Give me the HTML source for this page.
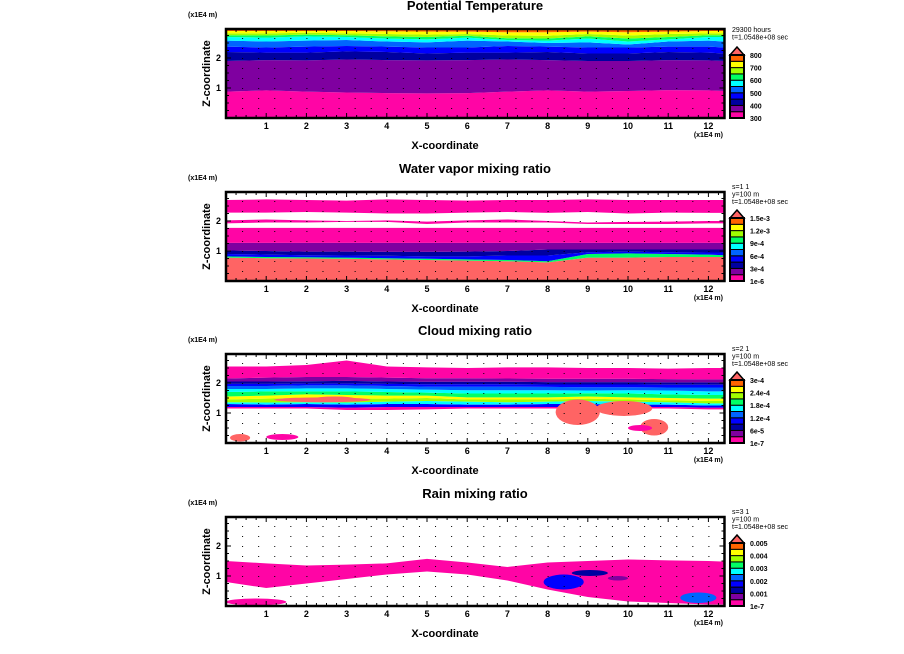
<!DOCTYPE html>
<html><head><meta charset="utf-8">
<style>
html,body{margin:0;padding:0;background:#fff;}
svg{display:block;font-family:"Liberation Sans",sans-serif;}
</style></head>
<body>
<svg id="fig" width="904" height="654" viewBox="0 0 904 654" xmlns="http://www.w3.org/2000/svg"></svg>
<script>
// ---- shared data ----
const xGrid = [0,1,2,3,4,5,6,7,8,9,10,11,12,12.4];
const xTicks = [1,2,3,4,5,6,7,8,9,10,11,12];
const zTicks = [1,2];
const palette = ['#ff05a5','#7f00a0','#0000a0','#0000ff','#0064ff','#00ffff','#00ff64','#a0ff00','#ffff00','#ff6400'];
const triColor = '#ff6464';
const titles = ['Potential Temperature','Water vapor mixing ratio','Cloud mixing ratio','Rain mixing ratio'];
const cbLabels = [
  ['800','700','600','500','400','300'],
  ['1.5e-3','1.2e-3','9e-4','6e-4','3e-4','1e-6'],
  ['3e-4','2.4e-4','1.8e-4','1.2e-4','6e-5','1e-7'],
  ['0.005','0.004','0.003','0.002','0.001','1e-7']
];
const infoText = [
  ['29300 hours','t=1.0548e+08 sec'],
  ['s=1 1','y=100 m','t=1.0548e+08 sec'],
  ['s=2 1','y=100 m','t=1.0548e+08 sec'],
  ['s=3 1','y=100 m','t=1.0548e+08 sec']
];

// ---- panel 1: stacked band tops (z in 1E4 m), colors bottom->top ----
const p1Colors = [0,1,2,3,4,5,6,7,8,9];
const p1Tops = [
  [0.88,0.92,0.88,0.85,0.83,0.82,0.83,0.88,0.92,0.88,0.90,0.93,0.92,0.90],
  [1.90,1.93,1.92,1.95,1.93,1.92,1.93,1.95,1.93,1.90,1.90,1.93,1.92,1.90],
  [2.20,2.18,2.18,2.22,2.20,2.15,2.18,2.18,2.20,2.15,2.15,2.20,2.18,2.15],
  [2.38,2.35,2.38,2.40,2.38,2.35,2.35,2.40,2.38,2.35,2.35,2.38,2.38,2.35],
  [2.58,2.55,2.58,2.60,2.55,2.52,2.58,2.55,2.50,2.52,2.45,2.55,2.58,2.55],
  [2.70,2.68,2.72,2.70,2.65,2.62,2.68,2.60,2.58,2.65,2.55,2.62,2.70,2.70],
  [2.76,2.75,2.78,2.76,2.72,2.70,2.74,2.66,2.65,2.72,2.65,2.70,2.76,2.76],
  [2.82,2.82,2.84,2.82,2.80,2.78,2.80,2.75,2.74,2.80,2.75,2.80,2.82,2.82],
  [2.90,2.90,2.90,2.90,2.89,2.88,2.88,2.86,2.86,2.88,2.86,2.88,2.90,2.90],
  [2.97,2.97,2.97,2.97,2.97,2.97,2.97,2.97,2.97,2.97,2.97,2.97,2.97,2.97]
];
// ---- panel 2 ----
const p2Colors = ['s',6,3,2,1,0,-1,0,-1,0,-1];
const p2Tops = [
  [0.78,0.76,0.75,0.74,0.72,0.70,0.68,0.66,0.62,0.78,0.78,0.80,0.80,0.80],
  [0.82,0.80,0.79,0.78,0.76,0.74,0.72,0.70,0.66,0.90,0.92,0.90,0.88,0.86],
  [0.90,0.88,0.86,0.85,0.84,0.82,0.82,0.85,0.85,0.96,0.98,0.96,0.95,0.95],
  [1.02,1.00,0.98,0.98,0.97,0.97,0.98,1.00,1.05,1.05,1.05,1.05,1.05,1.05],
  [1.27,1.27,1.27,1.27,1.27,1.27,1.27,1.27,1.27,1.27,1.27,1.27,1.27,1.27],
  [1.77,1.77,1.77,1.77,1.77,1.77,1.77,1.77,1.77,1.77,1.77,1.77,1.77,1.77],
  [1.92,1.95,1.95,1.97,1.97,1.90,1.95,1.95,1.95,1.90,1.90,1.90,1.92,1.92],
  [2.02,2.05,2.02,2.00,2.02,1.98,2.02,2.05,2.00,1.95,1.97,1.98,2.00,2.00],
  [2.28,2.28,2.30,2.28,2.25,2.25,2.28,2.30,2.27,2.30,2.25,2.28,2.27,2.27],
  [2.70,2.72,2.70,2.68,2.72,2.70,2.68,2.70,2.70,2.72,2.70,2.70,2.70,2.70],
  [2.97,2.97,2.97,2.97,2.97,2.97,2.97,2.97,2.97,2.97,2.97,2.97,2.97,2.97]
];
// ---- panel 3 ----
const p3Colors = [-1,0,3,5,7,8,6,5,4,3,2,1,0,-1];
const p3Tops = [
  [1.15,1.15,1.15,1.10,1.10,1.12,1.15,1.15,1.15,1.15,1.15,1.15,1.12,1.12],
  [1.20,1.20,1.20,1.18,1.20,1.20,1.20,1.20,1.20,1.20,1.20,1.20,1.18,1.18],
  [1.30,1.28,1.30,1.28,1.30,1.30,1.28,1.28,1.30,1.30,1.28,1.28,1.25,1.25],
  [1.36,1.35,1.36,1.35,1.38,1.40,1.38,1.36,1.38,1.40,1.38,1.36,1.32,1.32],
  [1.45,1.48,1.50,1.48,1.48,1.50,1.45,1.45,1.45,1.48,1.45,1.42,1.40,1.40],
  [1.55,1.58,1.62,1.60,1.58,1.58,1.52,1.52,1.52,1.55,1.52,1.50,1.48,1.48],
  [1.70,1.72,1.72,1.72,1.70,1.68,1.65,1.65,1.65,1.66,1.65,1.62,1.60,1.60],
  [1.80,1.80,1.82,1.82,1.80,1.78,1.76,1.76,1.76,1.75,1.76,1.75,1.72,1.72],
  [1.90,1.90,1.92,1.92,1.90,1.88,1.88,1.88,1.87,1.86,1.86,1.85,1.85,1.85],
  [1.97,1.97,1.98,1.98,1.97,1.96,1.96,1.96,1.95,1.95,1.95,1.94,1.94,1.94],
  [2.05,2.05,2.06,2.07,2.05,2.04,2.04,2.04,2.03,2.03,2.03,2.02,2.02,2.02],
  [2.15,2.18,2.20,2.20,2.18,2.16,2.16,2.15,2.14,2.14,2.14,2.13,2.12,2.12],
  [2.55,2.55,2.60,2.75,2.55,2.52,2.50,2.52,2.52,2.50,2.50,2.48,2.50,2.50],
  [2.97,2.97,2.97,2.97,2.97,2.97,2.97,2.97,2.97,2.97,2.97,2.97,2.97,2.97]
];
// blobs for panel 3: x0,x1,z0,z1,color
const p3BlobX0 = [1.2,2.2,8.2,9.2,10.3,10.0,0.1,1.0];
const p3BlobX1 = [3.6,3.2,9.3,10.6,11.0,10.6,0.6,1.8];
const p3BlobZ0 = [1.36,1.40,0.60,0.90,0.25,0.40,0.05,0.10];
const p3BlobZ1 = [1.52,1.55,1.45,1.40,0.80,0.60,0.30,0.30];
const p3BlobC  = [9,9,9,9,9,0,9,0];
// ---- panel 4 ----
const p4Colors = [-1,0,-1];
const p4Tops = [
  [0.80,0.60,0.75,0.90,1.05,1.15,1.05,0.85,0.55,0.30,0.15,0.10,0.05,0.05],
  [1.50,1.42,1.35,1.38,1.42,1.57,1.45,1.30,1.45,1.50,1.55,1.52,1.50,1.48],
  [2.97,2.97,2.97,2.97,2.97,2.97,2.97,2.97,2.97,2.97,2.97,2.97,2.97,2.97]
];
const p4BlobX0 = [0.0,7.9,8.6,11.3,9.5];
const p4BlobX1 = [1.5,8.9,9.5,12.2,10.0];
const p4BlobZ0 = [0.02,0.55,1.00,0.10,0.85];
const p4BlobZ1 = [0.25,1.05,1.20,0.45,1.00];
const p4BlobC  = [0,3,2,4,1];

const NS='http://www.w3.org/2000/svg';
const svg=document.getElementById('fig');
function el(tag,attrs,parent){const e=document.createElementNS(NS,tag);for(const k in attrs)e.setAttribute(k,attrs[k]);(parent||svg).appendChild(e);return e;}
const X0=226, XS=40.2, ZS=30, PH=89;
const panelTops=[29,192,354,517];
const stacks=[[p1Colors,p1Tops],[p2Colors,p2Tops],[p3Colors,p3Tops],[p4Colors,p4Tops]];
const blobs=[null,null,[p3BlobX0,p3BlobX1,p3BlobZ0,p3BlobZ1,p3BlobC],[p4BlobX0,p4BlobX1,p4BlobZ0,p4BlobZ1,p4BlobC]];
const names=['theta','vapor','cloud','rain'];

panelTops.forEach((T,pi)=>{
  const xs=x=>X0+x*XS, zs=z=>T+PH-z*ZS;
  const g=el('g',{});
  
  
  const t=el('text',{x:475,y:T-19,'text-anchor':'middle','font-size':13,'font-weight':'bold'},g);t.textContent=titles[pi];
  
  
  const plot=el('g',{},g);
  
  
  const [cols,tops]=stacks[pi];
  let prev=xGrid.map(()=>0);
  tops.forEach((top,li)=>{
    const c=cols[li];
    if(c!==-1){
      const fill=c==='s'?triColor:palette[c];
      let pts=xGrid.map((x,i)=>xs(x)+','+zs(top[i]));
      pts=pts.concat(xGrid.slice().reverse().map((x,j)=>{const i=xGrid.length-1-j;return xs(x)+','+zs(prev[i]);}));
      const p=el('polygon',{points:pts.join(' '),fill:fill},plot);
      
      
    }
    prev=top;
  });
  if(blobs[pi]){
    const [bx0,bx1,bz0,bz1,bc]=blobs[pi];
    bx0.forEach((v,i)=>{
      const r=el('ellipse',{cx:(xs(v)+xs(bx1[i]))/2,cy:(zs(bz0[i])+zs(bz1[i]))/2,rx:(xs(bx1[i])-xs(v))/2,ry:(zs(bz0[i])-zs(bz1[i]))/2,fill:bc[i]===9?triColor:palette[bc[i]]},plot);
      
      
    });
  }
  // dots
  for(let x=0.4;x<12.4;x+=0.4)for(let z=1/3;z<2.95;z+=1/3){el('rect',{x:xs(x),y:zs(z),width:1,height:1,fill:'#000'},plot);}
  // frame
  const fr=el('rect',{x:X0,y:T,width:12.4*XS,height:PH,fill:'none',stroke:'#000','stroke-width':2.5},g);
  
  
  for(let x=0.25;x<12.4;x+=0.25){const big=Math.abs(x-Math.round(x))<0.01;const L=big?5:3;
    el('line',{x1:xs(x),x2:xs(x),y1:T,y2:T+L,stroke:'#000'},g);el('line',{x1:xs(x),x2:xs(x),y1:T+PH,y2:T+PH-L,stroke:'#000'},g);}
  for(let z=0.25;z<2.97;z+=0.25){const big=Math.abs(z-Math.round(z))<0.01;const L=big?5:3;
    el('line',{x1:X0,x2:X0+L,y1:zs(z),y2:zs(z),stroke:'#000'},g);el('line',{x1:X0+12.4*XS,x2:X0+12.4*XS-L,y1:zs(z),y2:zs(z),stroke:'#000'},g);}
  xTicks.forEach(v=>{const tt=el('text',{x:xs(v),y:T+PH+11,'text-anchor':'middle','font-size':9,'font-weight':'bold'},g);tt.textContent=v;
    });
  zTicks.forEach(v=>{const tt=el('text',{x:X0-5,y:zs(v)+3,'text-anchor':'end','font-size':9,'font-weight':'bold'},g);tt.textContent=v;
    });
  const u1=el('text',{x:188,y:T-12,'font-size':7,'font-weight':'bold'},g);u1.textContent='(x1E4 m)';
  
  const u2=el('text',{x:723,y:T+PH+19,'text-anchor':'end','font-size':7,'font-weight':'bold'},g);u2.textContent='(x1E4 m)';
  
  const xl=el('text',{x:445,y:T+PH+31,'text-anchor':'middle','font-size':11,'font-weight':'bold'},g);xl.textContent='X-coordinate';
  
  const zl=el('text',{x:0,y:0,'text-anchor':'middle','font-size':11,'font-weight':'bold',transform:`translate(210,${T+PH/2}) rotate(-90)`},g);zl.textContent='Z-coordinate';
  
  // colorbar
  const cb=el('g',{},g);
  
  
  const cx0=730,cw=14,ctop=T+26,ch=6.3;
  el('polygon',{points:`${cx0},${ctop} ${cx0+cw/2},${T+18} ${cx0+cw},${ctop}`,fill:triColor,stroke:'#000','stroke-width':1.5},cb);
  palette.forEach((c,i)=>{const r=el('rect',{x:cx0,y:ctop+(9-i)*ch,width:cw,height:ch,fill:c,stroke:'#000','stroke-width':1},cb);
    });
  el('rect',{x:cx0,y:ctop,width:cw,height:10*ch,fill:'none',stroke:'#000','stroke-width':2},cb);
  cbLabels[pi].forEach((s,i)=>{const tt=el('text',{x:cx0+20,y:ctop+i*2*ch+3,'font-size':7,'font-weight':'bold'},cb);tt.textContent=s;
    });
  const lines=infoText[pi];const y0=lines.length===2?T+3:T-3;
  lines.forEach((s,i)=>{const tt=el('text',{x:732,y:y0+i*7.5,'font-size':7},g);tt.textContent=s;
    });
});
</script>
</body></html>
